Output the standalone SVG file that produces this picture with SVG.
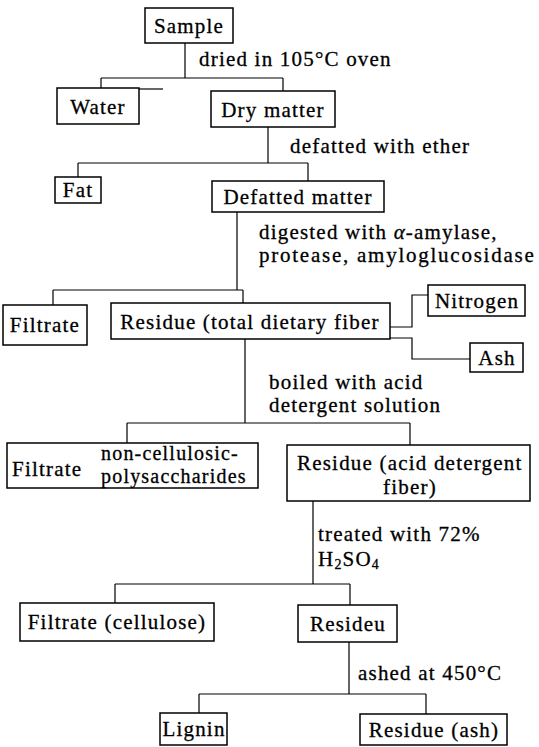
<svg xmlns="http://www.w3.org/2000/svg" width="539" height="747" viewBox="0 0 539 747">
<style>
rect.box{fill:#fff;stroke:#000;stroke-width:1.5}
.c path,.c line{fill:none;stroke:#000;stroke-width:1.2}
text{font-family:'Liberation Serif',serif;font-size:21px;letter-spacing:1.2px;fill:#000;stroke:#000;stroke-width:0.3}
.m{text-anchor:middle}
.s{font-size:20px}
</style>
<rect width="539" height="747" fill="#fff"/>
<g class="c" id="connectors">
<path d="M185,43V78M101,78H283M101,78V88M283,78V91"/>
<line x1="138" y1="89" x2="163" y2="89"/>
<path d="M268,127V163M78,163H308M78,163V177M308,163V181"/>
<path d="M237,212V290M53,290H243M53,290V305M243,290V303"/>
<path d="M390,327H412V295H428M390,338H412V359H470"/>
<path d="M245,339V423M127,423H410M127,423V443M410,423V445"/>
<path d="M313,501V584M115,584H350M115,584V603M350,584V605"/>
<path d="M349,642V694M199,694H426M199,694V713M426,694V714"/>
</g>
<g id="labels">
<text x="199" y="66">dried in 105°C oven</text>
<text x="290" y="153">defatted with ether</text>
<text x="259" y="239">digested with <tspan font-style="italic">α</tspan>-amylase,</text>
<text x="259" y="262" textLength="276" lengthAdjust="spacing">protease, amyloglucosidase</text>
<text x="269" y="389">boiled with acid</text>
<text x="269" y="412">detergent solution</text>
<text x="318" y="541">treated with 72%</text>
<text x="318" y="566">H<tspan font-size="14" dy="3">2</tspan><tspan dy="-3">SO</tspan><tspan font-size="14" dy="3">4</tspan></text>
<text x="358" y="680">ashed at 450°C</text>
</g>
<g id="sample"><rect class="box" x="145" y="8" width="88" height="35"/><text class="m" x="189" y="33">Sample</text></g>
<g id="water"><rect class="box" x="57" y="88" width="82" height="36"/><text class="m" x="98" y="114">Water</text></g>
<g id="dry-matter"><rect class="box" x="211" y="91" width="124" height="36"/><text class="m" x="273" y="117">Dry matter</text></g>
<g id="fat"><rect class="box" x="55" y="177" width="46" height="26"/><text class="m" x="78" y="197">Fat</text></g>
<g id="defatted-matter"><rect class="box" x="212" y="181" width="172" height="31"/><text class="m" x="298" y="204">Defatted matter</text></g>
<g id="filtrate1"><rect class="box" x="3" y="305" width="84" height="40"/><text class="m" x="45" y="332">Filtrate</text></g>
<g id="residue-tdf"><rect class="box" x="111" y="303" width="279" height="36"/><text class="m" x="250" y="329">Residue (total dietary fiber</text></g>
<g id="nitrogen"><rect class="box" x="428" y="285" width="97" height="31"/><text class="m" x="477" y="308">Nitrogen</text></g>
<g id="ash"><rect class="box" x="470" y="343" width="53" height="29"/><text class="m" x="497" y="365">Ash</text></g>
<g id="filtrate2"><rect class="box" x="7" y="443" width="251" height="45"/><text x="12" y="476">Filtrate</text><text class="s" x="101" y="460">non-cellulosic-</text><text class="s" x="101" y="483">polysaccharides</text></g>
<g id="residue-adf"><rect class="box" x="287" y="445" width="243" height="56"/><text x="297" y="470">Residue (acid detergent</text><text class="m" x="410" y="494">fiber)</text></g>
<g id="filtrate-cellulose"><rect class="box" x="20" y="603" width="194" height="38"/><text class="m" x="117" y="629">Filtrate (cellulose)</text></g>
<g id="resideu"><rect class="box" x="298" y="605" width="99" height="37"/><text class="m" x="348" y="631">Resideu</text></g>
<g id="lignin"><rect class="box" x="160" y="713" width="67" height="32"/><text class="m" x="194" y="736">Lignin</text></g>
<g id="residue-ash"><rect class="box" x="360" y="714" width="147" height="31"/><text class="m" x="434" y="737">Residue (ash)</text></g>
</svg>
